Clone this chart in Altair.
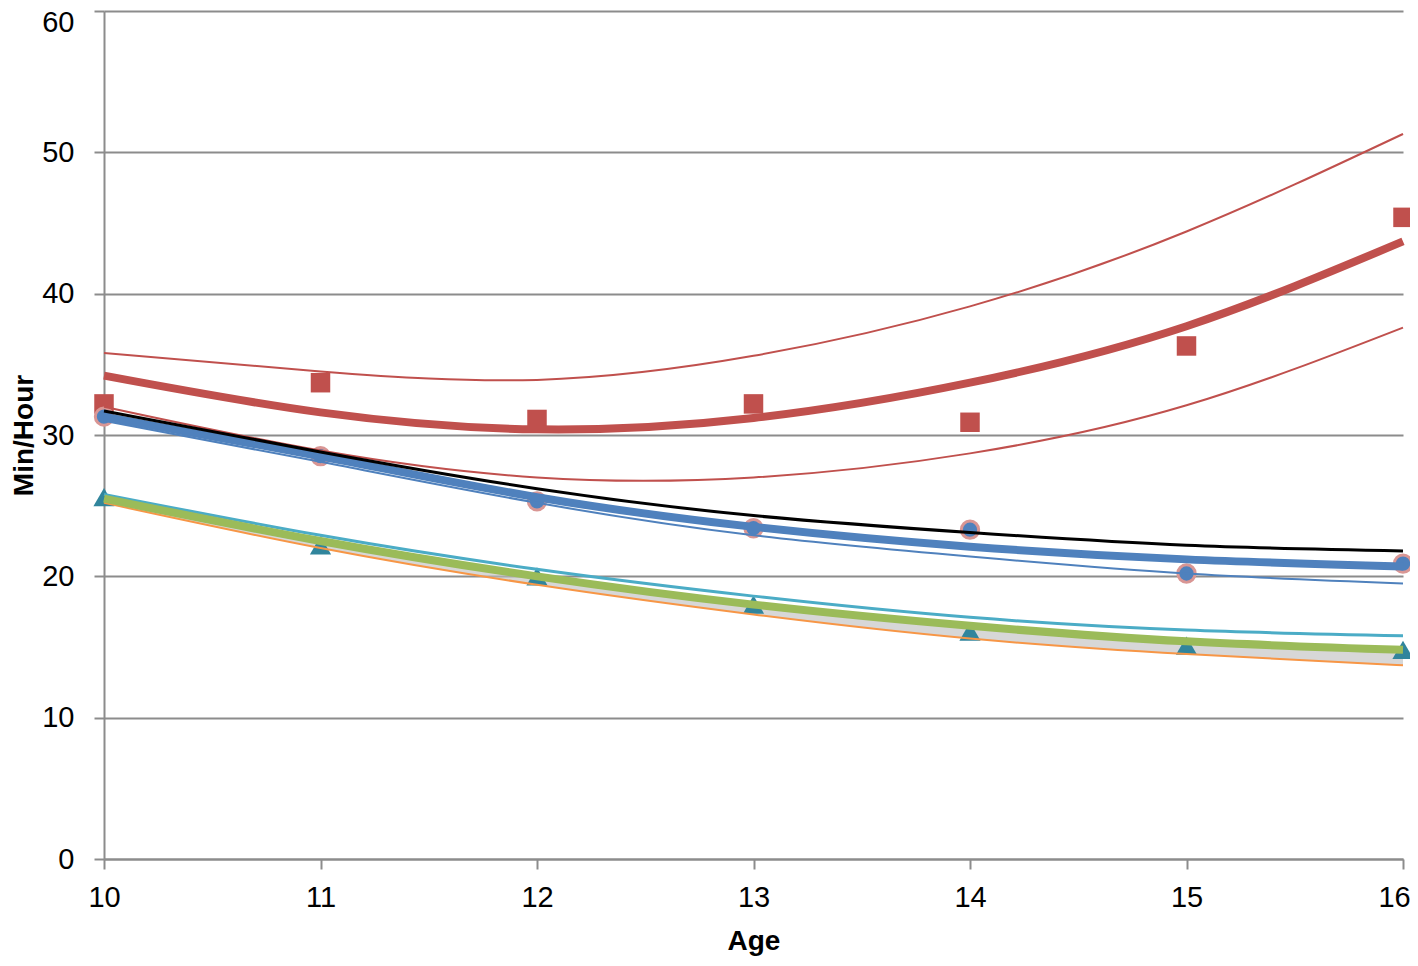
import altair as alt
import pandas as pd

ages = [10, 11, 12, 13, 14, 15, 16]

# observed points
red_points = [32.2, 33.7, 31.1, 32.2, 30.9, 36.3, 45.4]
blue_points = [31.3, 28.5, 25.3, 23.4, 23.3, 20.2, 20.9]
teal_points = [25.6, 22.2, 20.0, 18.0, 16.1, 15.1, 14.8]

# fitted curves and bands
red_fit = [34.2, 31.6, 30.4, 31.2, 33.7, 37.7, 43.7]
red_upper = [35.8, 34.5, 33.9, 35.6, 39.1, 44.4, 51.3]
red_lower = [32.0, 28.9, 27.0, 27.0, 28.7, 32.1, 37.6]

blue_fit = [31.3, 28.5, 25.6, 23.5, 22.1, 21.2, 20.7]
black_upper = [31.7, 28.8, 26.2, 24.3, 23.1, 22.2, 21.8]
blue_lower = [31.0, 28.1, 25.2, 22.9, 21.4, 20.2, 19.5]

green_fit = [25.5, 22.5, 20.0, 18.0, 16.5, 15.4, 14.8]
cyan_upper = [25.8, 22.9, 20.5, 18.6, 17.1, 16.2, 15.8]
orange_lower = [25.2, 22.0, 19.4, 17.3, 15.6, 14.5, 13.7]

y_ticks = [0, 10, 20, 30, 40, 50, 60]

df = pd.DataFrame({
    "age": ages,
    "red_points": red_points, "blue_points": blue_points, "teal_points": teal_points,
    "red_fit": red_fit, "red_upper": red_upper, "red_lower": red_lower,
    "blue_fit": blue_fit, "black_upper": black_upper, "blue_lower": blue_lower,
    "green_fit": green_fit, "cyan_upper": cyan_upper, "orange_lower": orange_lower,
})

GRID = "#8c8c8c"
FONT = "Liberation Sans"

x_enc = alt.X(
    "age:Q",
    scale=alt.Scale(domain=[10, 16], nice=False, zero=False),
    axis=alt.Axis(
        title="Age", values=ages, format="d", grid=False,
        tickSize=10, tickWidth=2, tickColor=GRID,
        domainColor=GRID, domainWidth=2, labelFlush=False,
        labelOffset=alt.condition("datum.value == 16", alt.value(-9), alt.value(0)),
        labelFontSize=29, labelFont=FONT, labelColor="black", labelPadding=14,
        titleFontSize=28, titleFont=FONT, titleFontWeight="bold", titleColor="black",
        titleY=90, titleBaseline="alphabetic",
    ),
)


def y_enc(field):
    return alt.Y(
        f"{field}:Q",
        scale=alt.Scale(domain=[0, 60], nice=False),
        axis=alt.Axis(
            title="Min/Hour", values=y_ticks,
            grid=True, gridColor=GRID, gridWidth=2,
            tickSize=10, tickWidth=2, tickColor=GRID,
            domainColor=GRID, domainWidth=2, labelFlush=False,
            labelOffset=alt.condition("datum.value == 60", alt.value(11), alt.value(0)),
            labelFontSize=29, labelFont=FONT, labelColor="black", labelPadding=20,
            titleFontSize=28, titleFont=FONT, titleFontWeight="bold", titleColor="black",
            titleX=-72, titleY=424, titleAngle=-90, titleAlign="center",
            titleBaseline="alphabetic",
        ),
    )


base = alt.Chart(df)

shadow = base.mark_area(color="#bdbdbd", opacity=0.6, interpolate="natural").encode(
    x=x_enc, y=y_enc("green_fit"), y2="orange_lower:Q"
)

tri = base.mark_point(shape="triangle-up", filled=True, color="#31859c", size=450, opacity=1).encode(
    x=x_enc, y=y_enc("teal_points")
)
sq = base.mark_point(shape="square", filled=True, color="#c0504d", size=380, opacity=1).encode(
    x=x_enc, y=y_enc("red_points")
)
circ = base.mark_point(shape="circle", filled=True, fill="#4f81bd", stroke="#d99694",
                       strokeWidth=3, size=300, opacity=1).encode(
    x=x_enc, y=y_enc("blue_points")
)


def line(field, color, width):
    return base.mark_line(color=color, strokeWidth=width, interpolate="natural").encode(
        x=x_enc, y=y_enc(field)
    )


layers = [
    shadow, tri, sq, circ,
    line("red_upper", "#c0504d", 2),
    line("red_lower", "#c0504d", 2),
    line("red_fit", "#c0504d", 8),
    line("blue_lower", "#4f81bd", 2),
    line("blue_fit", "#4f81bd", 8),
    line("black_upper", "#000000", 3),
    line("orange_lower", "#f79646", 2),
    line("cyan_upper", "#4bacc6", 3),
    line("green_fit", "#9bbb59", 8),
]

chart = alt.layer(*layers).properties(
    width=1299, height=848,
    autosize=alt.AutoSizeParams(type="none"),
    padding={"left": 96, "top": 3, "right": 7, "bottom": 99},
    background="white",
).configure_view(stroke=None)

chart.save("out.html", embed_options={"renderer": "svg", "actions": False})
